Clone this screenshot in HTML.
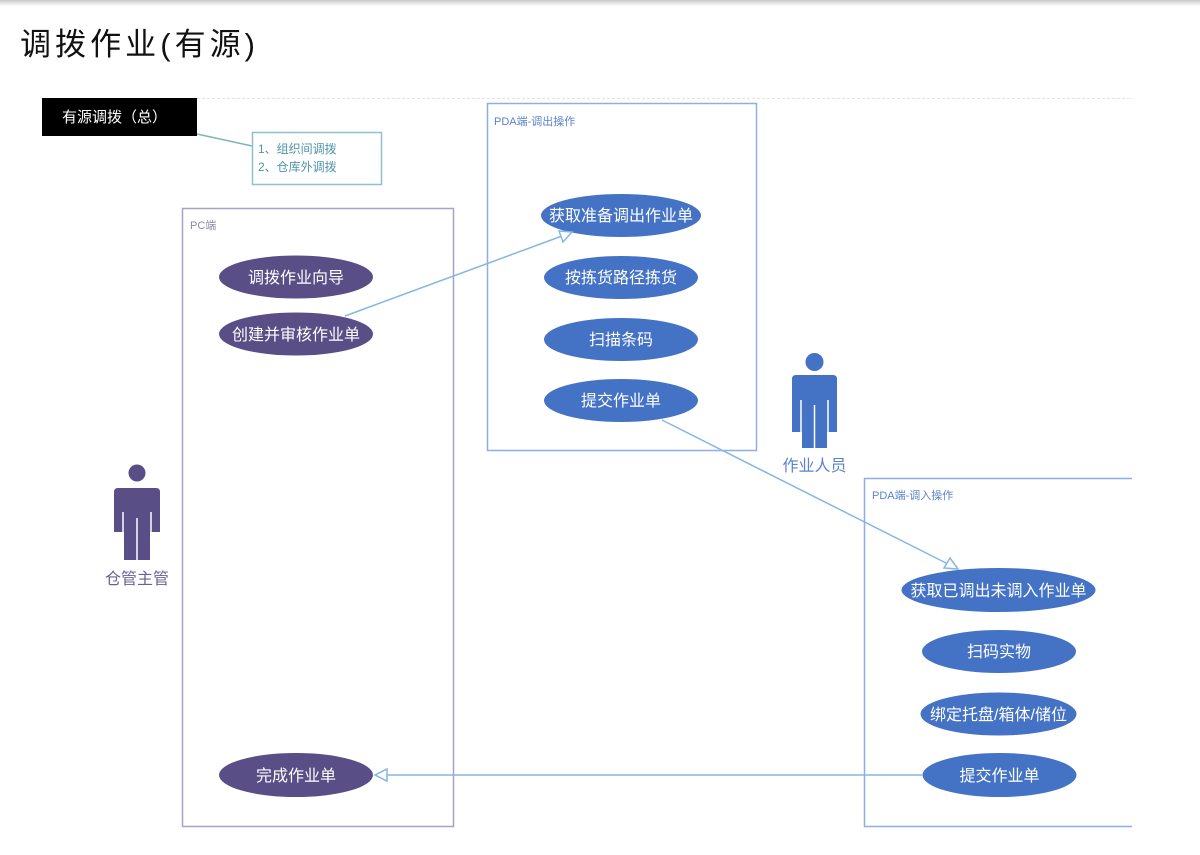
<!DOCTYPE html>
<html><head><meta charset="utf-8"><style>
html,body{margin:0;padding:0;background:#fff;}
body{width:1200px;height:855px;overflow:hidden;position:relative;font-family:"Liberation Sans","Noto Sans CJK SC",sans-serif;}
svg{position:absolute;left:0;top:0;}
</style></head><body>
<svg width="1200" height="855" viewBox="0 0 1200 855" xmlns="http://www.w3.org/2000/svg" font-family="Liberation Sans, Noto Sans CJK SC, sans-serif">
<defs>
<linearGradient id="sh" x1="0" y1="0" x2="0" y2="1">
<stop offset="0" stop-color="#c8c8c8"/><stop offset="1" stop-color="#ffffff"/>
</linearGradient>
</defs>
<rect x="0" y="0" width="1200" height="6" fill="url(#sh)"/>
<text x="20" y="55" font-size="31" fill="#111" textLength="235" lengthAdjust="spacing">调拨作业(有源)</text>

<line x1="197" y1="98.5" x2="1133" y2="98.5" stroke="#e2e2e2" stroke-width="1" stroke-dasharray="3,2"/>

<!-- black title box -->
<rect x="42" y="98" width="155" height="38" fill="#000"/>
<text x="62" y="122" font-size="15" fill="#fff">有源调拨（总）</text>
<line x1="197" y1="134" x2="252" y2="146" stroke="#7fb3c4" stroke-width="1.5"/>
<rect x="252.5" y="132.5" width="129" height="52" fill="#fff" stroke="#8fc0cf" stroke-width="1.5"/>
<text x="258" y="153" font-size="12" fill="#4f95a8">1、组织间调拨</text>
<text x="258" y="171" font-size="12" fill="#4f95a8">2、仓库外调拨</text>

<!-- PC box -->
<rect x="182.5" y="208.5" width="271" height="618" fill="none" stroke="#a7a3c8" stroke-width="1.5"/>
<text x="190" y="229" font-size="11" fill="#8c88a8">PC端</text>
<g fill="#5a4e87">
<ellipse cx="296" cy="277" rx="77" ry="21.5"/>
<ellipse cx="296" cy="334" rx="77" ry="21.5"/>
<ellipse cx="296" cy="775" rx="77" ry="22"/>
</g>
<g fill="#fff" font-size="16" text-anchor="middle">
<text x="296" y="283">调拨作业向导</text>
<text x="296" y="340">创建并审核作业单</text>
<text x="296" y="781">完成作业单</text>
</g>

<!-- PDA out box -->
<rect x="487.5" y="103.5" width="269" height="347" fill="none" stroke="#8eaee6" stroke-width="1.5"/>
<text x="494" y="125" font-size="11" fill="#5a82cc">PDA端-调出操作</text>
<g fill="#4472c4">
<ellipse cx="621" cy="215.5" rx="80" ry="21.5"/>
<ellipse cx="621" cy="277.5" rx="77" ry="21.5"/>
<ellipse cx="621" cy="339.5" rx="77" ry="21.5"/>
<ellipse cx="621" cy="400.5" rx="77" ry="21.5"/>
</g>
<g fill="#fff" font-size="16" text-anchor="middle">
<text x="621" y="221">获取准备调出作业单</text>
<text x="621" y="283">按拣货路径拣货</text>
<text x="621" y="345">扫描条码</text>
<text x="621" y="406">提交作业单</text>
</g>

<!-- PDA in box (open on right) -->
<path d="M1132 478.5 H864.5 V826.5 H1132" fill="none" stroke="#8eaee6" stroke-width="1.5"/>
<text x="872" y="499" font-size="11" fill="#5a82cc">PDA端-调入操作</text>
<g fill="#4472c4">
<ellipse cx="998.5" cy="590" rx="97" ry="22"/>
<ellipse cx="999" cy="651.5" rx="77" ry="21.5"/>
<ellipse cx="998.5" cy="714" rx="78" ry="21.5"/>
<ellipse cx="999.5" cy="775" rx="77" ry="22"/>
</g>
<g fill="#fff" font-size="16" text-anchor="middle">
<text x="998.5" y="596">获取已调出未调入作业单</text>
<text x="999" y="657">扫码实物</text>
<text x="998.5" y="720">绑定托盘/箱体/储位</text>
<text x="999.5" y="781">提交作业单</text>
</g>

<!-- connectors -->
<g stroke="#86b6e2" stroke-width="1.5" fill="#fff">
<line x1="345" y1="316" x2="562" y2="236"/>
<path d="M572 232 L559 231 L563 242 Z"/>
<line x1="662" y1="420" x2="948" y2="564"/>
<path d="M958 569 L950 558 L944 568 Z"/>
<line x1="923" y1="775" x2="386" y2="775"/>
<path d="M375 775 L387 769 L387 781 Z"/>
</g>

<!-- actor 仓管主管 -->
<g fill="#5a4e87">
<circle cx="137" cy="473" r="8.5"/>
<path d="M114 532 V492 Q114 488 118 488 H156 Q160 488 160 492 V532 H150 V560 H124 V532 Z"/>
</g>
<g stroke="#fff" stroke-width="1.5">
<line x1="123" y1="512" x2="123" y2="533"/>
<line x1="151" y1="512" x2="151" y2="533"/>
<line x1="137" y1="518" x2="137" y2="561"/>
</g>
<text x="137" y="584" font-size="16" fill="#6a5f94" text-anchor="middle">仓管主管</text>

<!-- actor 作业人员 -->
<g fill="#4472c4">
<circle cx="814.5" cy="362" r="9"/>
<path d="M792 432 V379 Q792 375 796 375 H833 Q837 375 837 379 V432 H827 V448 H802 V432 Z"/>
</g>
<g stroke="#fff" stroke-width="1.5">
<line x1="801" y1="400" x2="801" y2="433"/>
<line x1="828" y1="400" x2="828" y2="433"/>
<line x1="814.5" y1="405" x2="814.5" y2="449"/>
</g>
<text x="814.5" y="471" font-size="16" fill="#5a82cc" text-anchor="middle">作业人员</text>
</svg>
</body></html>
